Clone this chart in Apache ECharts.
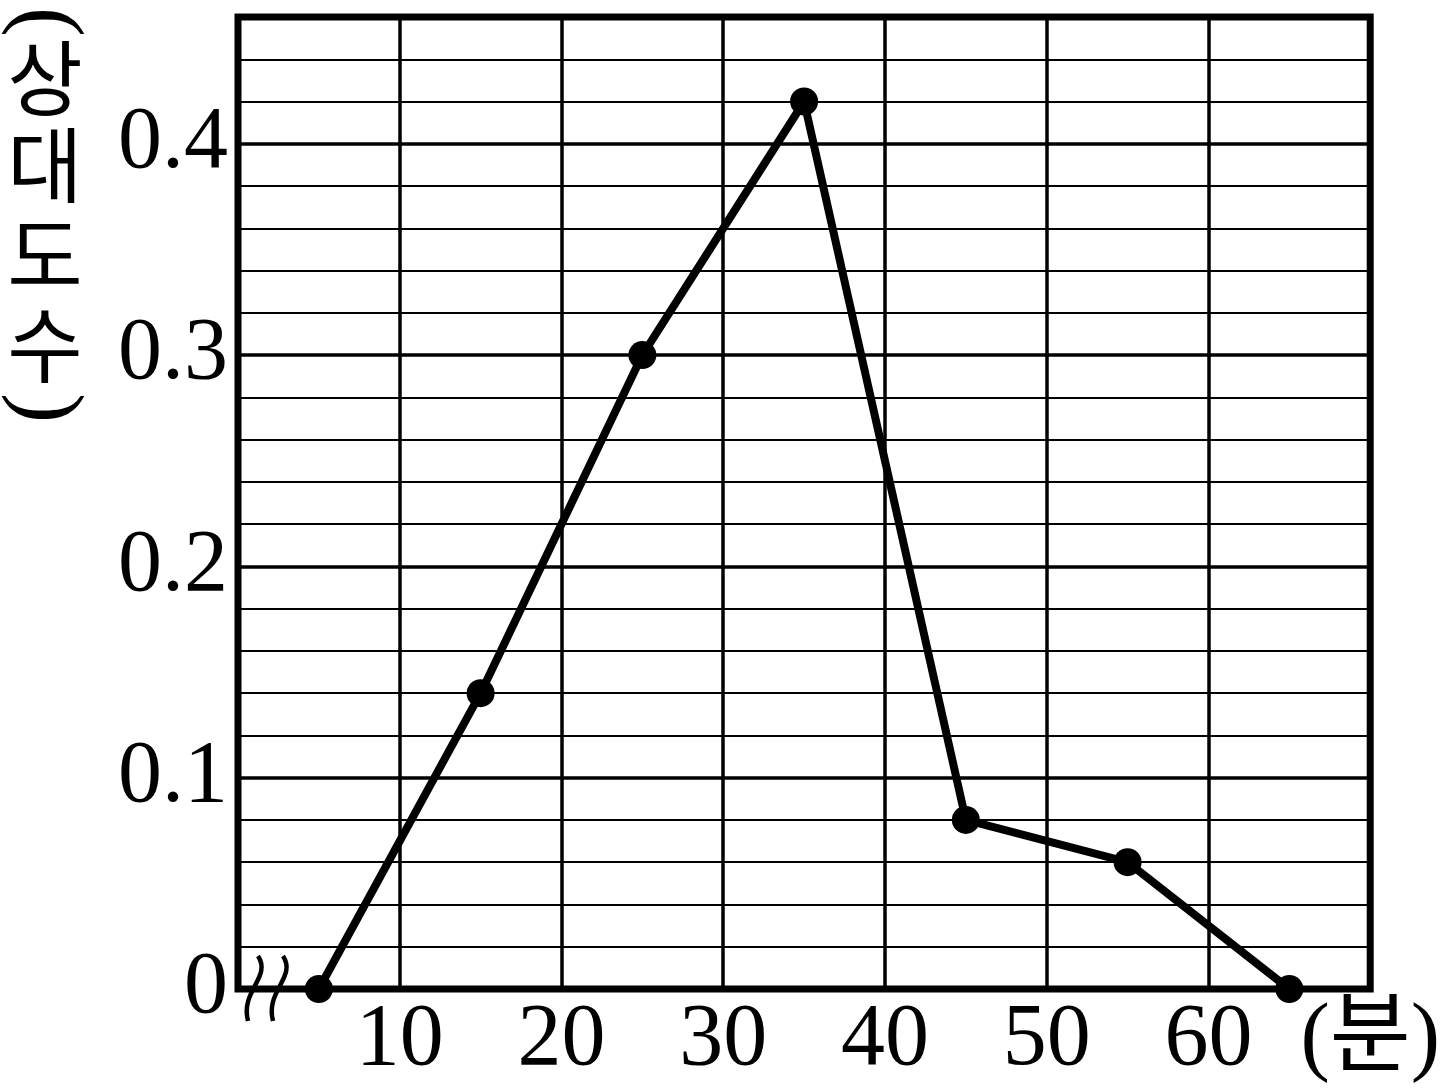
<!DOCTYPE html>
<html><head><meta charset="utf-8">
<script src="https://cdn.jsdelivr.net/npm/echarts@6/dist/echarts.min.js"></script>
<style>html,body{margin:0;padding:0;background:#fff}#c{width:1443px;height:1091px}</style>
</head><body><div id="c"></div>
<script>
const xValues = [5, 15, 25, 35, 45, 55, 65];
const relFreq = [0, 0.14, 0.30, 0.42, 0.08, 0.06, 0];
const xTickLabels = ['', '10', '20', '30', '40', '50', '60', '(분)'];
const yTickLabels = ['0', '0.1', '0.2', '0.3', '0.4'];
const yTitleChars = ['(', '상', '대', '도', '수', ')'];

const numFont = '"Liberation Serif", "Noto Sans CJK KR", serif';
const chart = echarts.init(document.getElementById('c'), null, {renderer: 'canvas'});

const option = {
  animation: false,
  backgroundColor: '#fff',
  grid: {left: 238, right: 72, top: 17, bottom: 102, show: true, borderColor: '#000', borderWidth: 7, backgroundColor: 'transparent'},
  xAxis: {
    type: 'value', min: 0, max: 70, interval: 10,
    axisLine: {show: false}, axisTick: {show: false},
    splitLine: {show: true, lineStyle: {color: '#000', width: 3.5}},
    axisLabel: {
      margin: 8, color: '#000', fontFamily: numFont, fontSize: 88,
      formatter: v => { const i = Math.round(v / 10); return xTickLabels[i] || ''; }
    }
  },
  yAxis: [
    {
      type: 'value', min: 0, max: 0.46, interval: 0.02,
      axisLine: {show: false}, axisTick: {show: false},
      splitLine: {show: true, lineStyle: {color: '#000', width: 2}},
      axisLabel: {show: false}
    },
    {
      type: 'value', min: 0, max: 0.46, interval: 0.1, position: 'left',
      axisLine: {show: false}, axisTick: {show: false},
      splitLine: {show: true, lineStyle: {color: '#000', width: 3.5}},
      axisLabel: {
        margin: 10, color: '#000', fontFamily: numFont, fontSize: 88,
        formatter: v => {
          const i = Math.round(v * 10);
          return (Math.abs(v * 10 - i) < 1e-6 && i < yTickLabels.length) ? yTickLabels[i] : '';
        }
      }
    }
  ],
  series: [{
    type: 'line',
    data: xValues.map((x, i) => [x, relFreq[i]]),
    yAxisIndex: 0,
    symbol: 'circle', symbolSize: 28,
    lineStyle: {color: '#000', width: 8},
    itemStyle: {color: '#000'},
    z: 10
  }]
};
chart.setOption(option);

const o = chart.convertToPixel({gridIndex: 0}, [0, 0]);
const ox = o[0], oy = o[1];
const wave = dx => ({
  type: 'bezierCurve', z: 20,
  shape: {x1: ox + 20 + dx, y1: oy - 33, cpx1: ox + 34 + dx, cpy1: oy - 12, cpx2: ox + 2 + dx, cpy2: oy + 2, x2: ox + 10 + dx, y2: oy + 32},
  style: {stroke: '#000', lineWidth: 4.5, fill: null}
});
const titleY = [22, 78, 165, 255, 345, 408];
const graphics = [wave(0), wave(25)];
yTitleChars.forEach((ch, i) => {
  const paren = (ch === '(' || ch === ')');
  graphics.push({
    type: 'text', z: 20, x: 45, y: titleY[i],
    rotation: paren ? -Math.PI / 2 : 0,
    style: {text: ch, fill: '#000', font: paren ? '90px "Liberation Serif"' : '82px "Noto Sans CJK KR"', align: 'center', verticalAlign: 'middle'}
  });
});
chart.setOption({graphic: graphics});
</script></body></html>
